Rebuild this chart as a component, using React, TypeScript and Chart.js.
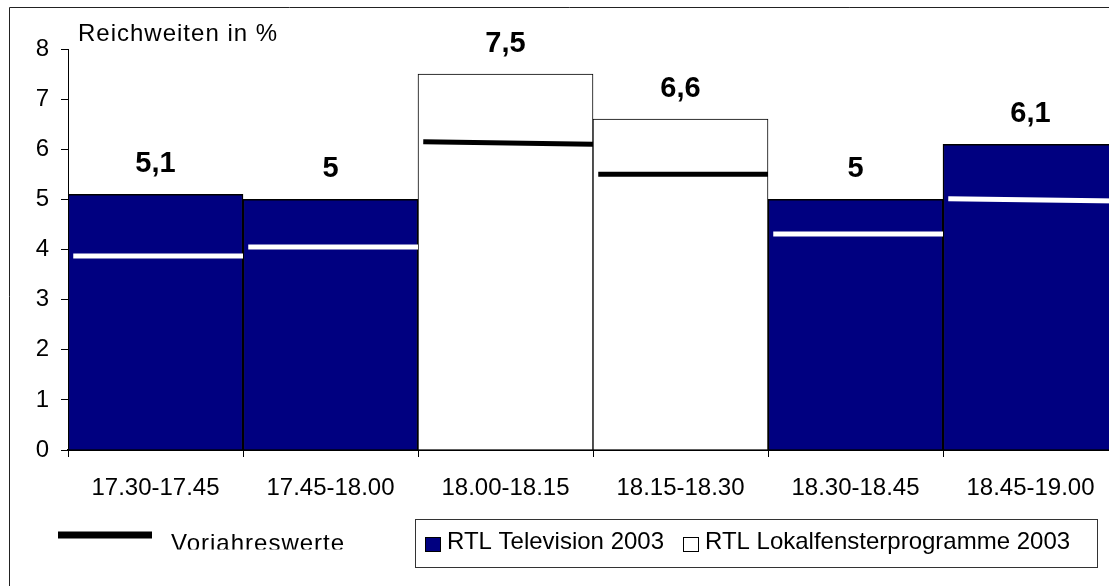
import React, { useEffect, useRef } from "react";
import { Chart, registerables } from "chart.js";

Chart.register(...registerables);

const categories = [
  "17.30-17.45",
  "17.45-18.00",
  "18.00-18.15",
  "18.15-18.30",
  "18.30-18.45",
  "18.45-19.00",
];
const tvValues: (number | null)[] = [5.1, 5.0, null, null, 5.0, 6.1];
const lokalValues: (number | null)[] = [null, null, 7.5, 6.6, null, null];
const prevStart = [3.87, 4.05, 6.15, 5.5, 4.31, 5.01];
const prevEnd = [3.87, 4.05, 6.1, 5.5, 4.31, 4.97];
const yTicks = [0, 1, 2, 3, 4, 5, 6, 7, 8];
const seriesNames = ["RTL Television 2003", "RTL Lokalfensterprogramme 2003"];
const prevName = "Vorjahreswerte";
const axisTitle = "Reichweiten in %";

const NAVY = "#000080";
const FONT = '"Liberation Sans", Arial, sans-serif';

function prevSegments(onTv: boolean) {
  const pts: { x: number; y: number | null }[] = [];
  categories.forEach((_, i) => {
    if ((tvValues[i] != null) === onTv) {
      pts.push({ x: i - 0.47, y: prevStart[i] });
      pts.push({ x: i + 0.5, y: prevEnd[i] });
      pts.push({ x: i + 0.5, y: null });
    }
  });
  return pts;
}

const decorPlugin = {
  id: "decor",
  afterDatasetsDraw(chart: any) {
    const ctx = chart.ctx as CanvasRenderingContext2D;
    ctx.save();
    ctx.font = `bold 29px ${FONT}`;
    ctx.textAlign = "center";
    ctx.textBaseline = "alphabetic";
    ctx.fillStyle = "#000";
    [tvValues, lokalValues].forEach((vals, di) => {
      const meta = chart.getDatasetMeta(di);
      meta.data.forEach((el: any, j: number) => {
        const v = vals[j];
        if (v == null) return;
        ctx.fillText(String(v).replace(".", ","), el.x, el.y - 22);
      });
    });
    ctx.restore();
  },
  afterDraw(chart: any) {
    const ctx = chart.ctx as CanvasRenderingContext2D;
    const W = chart.width;
    const H = chart.height;
    ctx.save();
    // outer frame
    ctx.strokeStyle = "#222";
    ctx.lineWidth = 1;
    ctx.beginPath();
    ctx.moveTo(9.5, H);
    ctx.lineTo(9.5, 7.5);
    ctx.lineTo(W, 7.5);
    ctx.stroke();

    // axis title
    ctx.fillStyle = "#000";
    ctx.font = `24px ${FONT}`;
    (ctx as any).letterSpacing = "1px";
    ctx.textAlign = "left";
    ctx.textBaseline = "alphabetic";
    ctx.fillText(axisTitle, 78, 41);

    // legend: previous year line
    ctx.strokeStyle = "#000";
    ctx.lineWidth = 7;
    ctx.lineCap = "butt";
    ctx.beginPath();
    ctx.moveTo(58, 535);
    ctx.lineTo(152, 535);
    ctx.stroke();
    ctx.save();
    ctx.beginPath();
    ctx.rect(150, 520, 220, 29.5);
    ctx.clip();
    ctx.fillText(prevName, 171, 551);
    ctx.restore();
    (ctx as any).letterSpacing = "0px";

    // legend box
    ctx.strokeStyle = "#333";
    ctx.lineWidth = 1;
    ctx.strokeRect(415.5, 519.5, 682, 48);
    ctx.font = `24px ${FONT}`;
    // series 1
    ctx.fillStyle = NAVY;
    ctx.fillRect(425, 537, 16, 15);
    ctx.strokeStyle = "#000";
    ctx.strokeRect(425.5, 537.5, 15, 14);
    ctx.fillStyle = "#000";
    ctx.fillText(seriesNames[0], 447, 549);
    // series 2
    ctx.fillStyle = "#fff";
    ctx.fillRect(683, 537, 16, 15);
    ctx.strokeRect(683.5, 537.5, 15, 14);
    ctx.fillStyle = "#000";
    ctx.fillText(seriesNames[1], 705, 549);
    ctx.restore();
  },
};

export default function App() {
  const ref = useRef<HTMLCanvasElement | null>(null);

  useEffect(() => {
    if (!ref.current) return;
    const chart = new Chart(ref.current, {
      type: "bar",
      data: {
        labels: categories,
        datasets: [
          {
            type: "bar",
            label: seriesNames[0],
            data: tvValues,
            backgroundColor: NAVY,
            borderColor: "#000",
            borderWidth: 1.5,
            grouped: false,
            categoryPercentage: 1,
            barPercentage: 1,
            order: 2,
          } as any,
          {
            type: "bar",
            label: seriesNames[1],
            data: lokalValues,
            backgroundColor: "#fff",
            borderColor: "#000",
            borderWidth: 1,
            grouped: false,
            categoryPercentage: 1,
            barPercentage: 1,
            order: 2,
          } as any,
          {
            type: "line",
            label: prevName,
            data: prevSegments(true),
            xAxisID: "x2",
            borderColor: "#fff",
            borderWidth: 5,
            pointRadius: 0,
            fill: false,
            spanGaps: false,
            tension: 0,
            borderCapStyle: "butt",
            order: 0,
          } as any,
          {
            type: "line",
            label: prevName,
            data: prevSegments(false),
            xAxisID: "x2",
            borderColor: "#000",
            borderWidth: 5,
            pointRadius: 0,
            fill: false,
            spanGaps: false,
            tension: 0,
            borderCapStyle: "butt",
            order: 0,
          } as any,
        ],
      },
      options: {
        responsive: false,
        maintainAspectRatio: false,
        devicePixelRatio: 1,
        animation: false,
        layout: { padding: { top: 49, right: 12, left: 0, bottom: 0 } },
        plugins: {
          legend: { display: false },
          tooltip: { enabled: false },
          title: { display: false },
        },
        scales: {
          x: {
            type: "category",
            offset: true,
            grid: {
              display: true,
              offset: true,
              drawOnChartArea: false,
              drawTicks: true,
              tickLength: 7,
              color: "#000",
            },
            border: { display: true, color: "#000", width: 2 },
            ticks: {
              color: "#000",
              font: { family: FONT, size: 24 },
              padding: 17,
              maxRotation: 0,
              autoSkip: false,
            },
            afterFit: (s: any) => {
              s.height = 136;
            },
          },
          x2: {
            type: "linear",
            display: false,
            offset: false,
            grid: { offset: false },
            min: -0.5,
            max: 5.5,
          },
          y: {
            type: "linear",
            min: 0,
            max: 8,
            grid: {
              display: true,
              drawOnChartArea: false,
              drawTicks: true,
              tickLength: 7,
              color: "#000",
            },
            border: { display: true, color: "#000", width: 1 },
            ticks: {
              color: "#000",
              font: { family: FONT, size: 24 },
              padding: 12,
            },
            afterBuildTicks: (s: any) => {
              s.ticks = yTicks.map((v) => ({ value: v }));
            },
            afterFit: (s: any) => {
              s.width = 68;
            },
          },
        },
      } as any,
      plugins: [decorPlugin],
    });
    return () => chart.destroy();
  }, []);

  return (
    <div
      style={{
        position: "absolute",
        left: 0,
        top: 0,
        width: 1109,
        height: 586,
        overflow: "hidden",
        background: "#fff",
      }}
    >
      <canvas
        ref={ref}
        width={1130}
        height={586}
        style={{ width: 1130, height: 586, display: "block" }}
      />
    </div>
  );
}
